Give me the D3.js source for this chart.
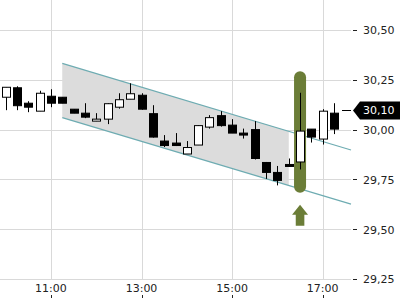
<!DOCTYPE html>
<html>
<head>
<meta charset="utf-8">
<script src="https://cdn.jsdelivr.net/npm/d3@7"></script>
<style>
  body { margin: 0; background: #fff; }
  svg { display: block; font-family: "DejaVu Sans", sans-serif; }
</style>
</head>
<body>
<svg id="chart" width="400" height="300"></svg>
<script>
// 15 minute candles starting 10:00
const times = d3.range(30).map(i => new Date(2020, 0, 1, 10, i * 15));
const opens  = [30.165, 30.2125, 30.135, 30.095, 30.17, 30.165, 30.105, 30.085, 30.045, 30.055,
                30.115, 30.155, 30.175, 30.0825, 29.945, 29.935, 29.88, 29.925, 30.015, 30.0725,
                30.025, 29.985, 30.0025, 29.8375, 29.7875, 29.8275, 29.84, 30.005, 29.955, 30.085];
const highs  = [30.215, 30.22, 30.145, 30.1975, 30.205, 30.165, 30.105, 30.135, 30.085, 30.135,
                30.185, 30.235, 30.185, 30.125, 29.975, 29.985, 29.945, 30.025, 30.075, 30.095,
                30.055, 30.0075, 30.045, 29.84, 29.82, 29.8575, 30.1875, 30.005, 30.105, 30.135];
const lows   = [30.10, 30.10, 30.09, 30.095, 30.115, 30.135, 30.085, 30.06, 30.045, 30.03,
                30.1075, 30.155, 30.1025, 29.9625, 29.915, 29.92, 29.88, 29.925, 30.0075, 30.0175,
                29.985, 29.9575, 29.8525, 29.755, 29.7225, 29.815, 29.8025, 29.9375, 29.9275, 29.98];
const closes = [30.215, 30.1225, 30.115, 30.185, 30.135, 30.135, 30.085, 30.065, 30.055, 30.1325,
                30.1525, 30.1825, 30.105, 29.965, 29.9225, 29.9225, 29.9125, 30.0225, 30.0625, 30.0225,
                29.985, 29.975, 29.8575, 29.7875, 29.7475, 29.8175, 29.995, 29.965, 30.095, 30.005];

const priceTicks = [29.25, 29.50, 29.75, 30.00, 30.25, 30.50];
const timeTicks = [11, 13, 15, 17].map(h => new Date(2020, 0, 1, h, 0));
const lastPrice = 30.10;

// trend channel: [time, upper, lower]
const channelStart = [new Date(2020, 0, 1, 11, 15), 30.335, 30.0625];
const channelEnd = [new Date(2020, 0, 1, 17, 37, 30), 29.90, 29.6285];
const shadeEnd = new Date(2020, 0, 1, 16, 15);

const signalIndex = 26;
const signalRange = [29.685, 30.295];

const data = times.map((t, i) => ({
    t, o: opens[i], h: highs[i], l: lows[i], c: closes[i]
}));

const svg = d3.select('#chart');
const plotRight = 351;

const x = d3.scaleTime()
    .domain([new Date(2020, 0, 1, 9, 52, 30), new Date(2020, 0, 1, 17, 37, 30)])
    .range([0, plotRight]);

const y = d3.scaleLinear()
    .domain([29.25, 30.50])
    .range([279.5, 30.5]);

const crisp = v => Math.round(v - 0.5) + 0.5;

const fmt = d3.formatLocale({ decimal: ',', thousands: '.', grouping: [3], currency: ['', '€'] }).format('.2f');

// grid
svg.append('g')
    .selectAll('line')
    .data(priceTicks)
    .join('line')
    .attr('x1', 0).attr('x2', plotRight)
    .attr('y1', d => crisp(y(d))).attr('y2', d => crisp(y(d)))
    .attr('stroke', '#d9d9d9');

svg.append('g')
    .selectAll('line')
    .data(timeTicks)
    .join('line')
    .attr('x1', d => Math.round(x(d)) + 0.5).attr('x2', d => Math.round(x(d)) + 0.5)
    .attr('y1', 0).attr('y2', 280)
    .attr('stroke', '#d9d9d9');

// channel
const chanY = (t, k) => {
    const f = (t - channelStart[0]) / (channelEnd[0] - channelStart[0]);
    return channelStart[k] + f * (channelEnd[k] - channelStart[k]);
};

svg.append('path')
    .attr('d', d3.area()
        .x(d => x(d))
        .y0(d => y(chanY(d, 2)))
        .y1(d => y(chanY(d, 1)))([channelStart[0], shadeEnd]))
    .attr('fill', '#dcdcdc');

[1, 2].forEach(k => {
    svg.append('line')
        .attr('x1', x(channelStart[0])).attr('y1', y(channelStart[k]))
        .attr('x2', x(channelEnd[0])).attr('y2', y(channelEnd[k]))
        .attr('stroke', '#6eacb2')
        .attr('stroke-width', 1.2);
});

// signal highlight
const sx = x(times[signalIndex]);
svg.append('rect')
    .attr('x', sx - 6).attr('width', 12)
    .attr('y', y(signalRange[1])).attr('height', y(signalRange[0]) - y(signalRange[1]))
    .attr('rx', 6)
    .attr('fill', '#6b7d37');

const ay = y(signalRange[0]) + 12;
svg.append('path')
    .attr('d', `M${sx},${ay} L${sx + 8},${ay + 10} L${sx + 4.3},${ay + 10} L${sx + 4.3},${ay + 21}
                L${sx - 4.3},${ay + 21} L${sx - 4.3},${ay + 10} L${sx - 8},${ay + 10} Z`)
    .attr('fill', '#6b7d37');

// candles
const candle = svg.append('g')
    .selectAll('g')
    .data(data)
    .join('g')
    .attr('transform', d => `translate(${Math.round(x(d.t)) + 0.5},0)`);

candle.append('line')
    .attr('y1', d => y(d.h)).attr('y2', d => y(d.l))
    .attr('stroke', '#000');

candle.append('rect')
    .attr('x', -4).attr('width', 8)
    .attr('y', d => y(Math.max(d.o, d.c)))
    .attr('height', d => Math.max(1, Math.abs(y(d.o) - y(d.c))))
    .attr('fill', d => d.c >= d.o ? '#fff' : '#000')
    .attr('stroke', '#000');

// last price
const ly = crisp(y(lastPrice));
svg.append('line')
    .attr('x1', x(times[times.length - 1]) + 8).attr('x2', plotRight)
    .attr('y1', ly).attr('y2', ly)
    .attr('stroke', '#000');

// right axis
const yAxis = svg.append('g');
yAxis.selectAll('line')
    .data(priceTicks)
    .join('line')
    .attr('x1', 353).attr('x2', 357)
    .attr('y1', d => crisp(y(d))).attr('y2', d => crisp(y(d)))
    .attr('stroke', '#222');
yAxis.selectAll('text')
    .data(priceTicks)
    .join('text')
    .attr('x', 363).attr('y', d => y(d))
    .attr('dy', '0.35em')
    .attr('font-size', 11)
    .attr('fill', '#222')
    .text(d => fmt(d));

svg.append('path')
    .attr('d', `M353,${ly} L360,${ly - 9} L400,${ly - 9} L400,${ly + 9} L360,${ly + 9} Z`)
    .attr('fill', '#000');
svg.append('text')
    .attr('x', 363).attr('y', ly)
    .attr('dy', '0.35em')
    .attr('font-size', 11)
    .attr('fill', '#fff')
    .text(fmt(lastPrice));

// bottom axis
const xAxis = svg.append('g');
xAxis.selectAll('text')
    .data(timeTicks)
    .join('text')
    .attr('x', d => x(d)).attr('y', 292)
    .attr('text-anchor', 'middle')
    .attr('font-size', 11)
    .attr('fill', '#222')
    .text(d3.timeFormat('%H:%M'));
xAxis.selectAll('line')
    .data(timeTicks)
    .join('line')
    .attr('x1', d => Math.round(x(d)) + 0.5).attr('x2', d => Math.round(x(d)) + 0.5)
    .attr('y1', 295).attr('y2', 298)
    .attr('stroke', '#222');
</script>
</body>
</html>
